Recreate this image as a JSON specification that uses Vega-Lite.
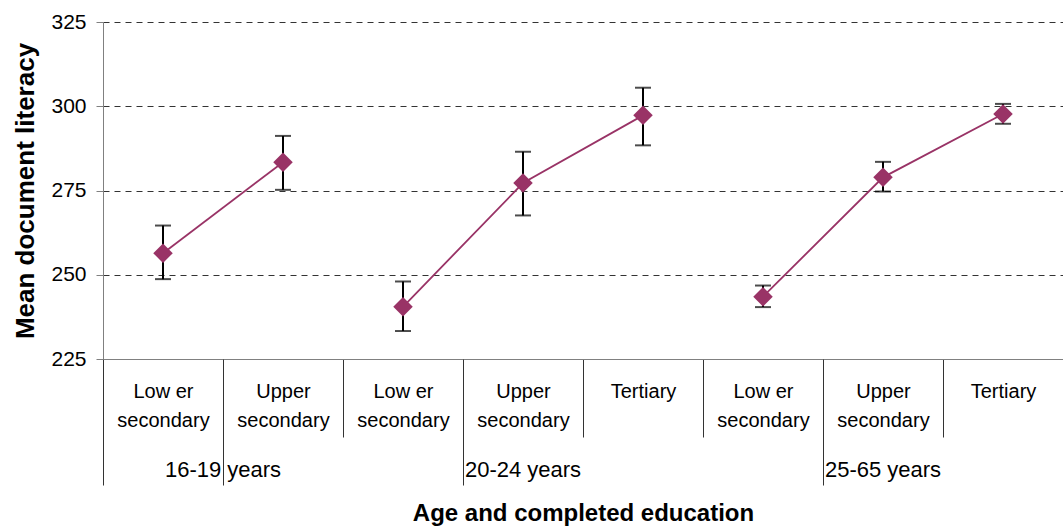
{
  "$schema": "https://vega.github.io/schema/vega-lite/v6.json",
  "width": 960,
  "height": 337,
  "autosize": {"type": "none"},
  "padding": {"left": 103, "top": 22, "right": 0, "bottom": 168},
  "background": "white",
  "config": {
    "view": {"stroke": null},
    "font": "Liberation Sans",
    "axis": {"labelFont": "Liberation Sans", "titleFont": "Liberation Sans", "labelColor": "black", "titleColor": "black"}
  },
  "data": {
    "values": [
      {"cat": "16-19 years|Low er|secondary", "age": "16-19 years", "mean": 256.4, "lo": 248.7, "hi": 264.6},
      {"cat": "16-19 years|Upper|secondary", "age": "16-19 years", "mean": 283.4, "lo": 275.2, "hi": 291.2},
      {"cat": "20-24 years|Low er|secondary", "age": "20-24 years", "mean": 240.5, "lo": 233.3, "hi": 248.0},
      {"cat": "20-24 years|Upper|secondary", "age": "20-24 years", "mean": 277.2, "lo": 267.6, "hi": 286.5},
      {"cat": "20-24 years|Tertiary", "age": "20-24 years", "mean": 297.3, "lo": 288.4, "hi": 305.5},
      {"cat": "25-65 years|Low er|secondary", "age": "25-65 years", "mean": 243.5, "lo": 240.4, "hi": 246.8},
      {"cat": "25-65 years|Upper|secondary", "age": "25-65 years", "mean": 278.9, "lo": 274.7, "hi": 283.5},
      {"cat": "25-65 years|Tertiary", "age": "25-65 years", "mean": 297.7, "lo": 294.8, "hi": 300.7}
    ]
  },
  "resolve": {"axis": {"x": "independent"}},
  "layer": [
    {
      "mark": {"type": "rule", "color": "black", "strokeWidth": 2},
      "encoding": {
        "x": {
          "field": "cat", "type": "nominal", "sort": null,
          "scale": {"paddingInner": 0, "paddingOuter": 0},
          "axis": {
            "orient": "bottom", "title": null,
            "domainColor": "#808080", "domainWidth": 1,
            "tickBand": "extent", "tickExtra": false, "tickSize": 78, "tickColor": "#333333", "tickWidth": 1,
            "labelExpr": "slice(split(datum.value, '|'), 1)",
            "labelAngle": 0, "labelFontSize": 20, "labelLineHeight": 29, "labelBaseline": "top",
            "labelPadding": -56, "labelOverlap": false, "grid": false
          }
        },
        "y": {
          "field": "lo", "type": "quantitative", "title": "Mean document literacy",
          "scale": {"domain": [225, 325], "nice": false, "zero": false},
          "axis": {
            "values": [225, 250, 275, 300, 325],
            "domainColor": "#808080", "tickColor": "#808080", "tickSize": 7,
            "labelFontSize": 21, "labelPadding": 10,
            "titleFontSize": 26, "titleFontWeight": "bold", "titlePadding": 12,
            "grid": true, "gridDash": [6, 5], "gridColor": "#333333", "gridWidth": 1
          }
        },
        "y2": {"field": "hi"}
      }
    },
    {
      "mark": {"type": "tick", "color": "black", "thickness": 2, "size": 16, "orient": "horizontal"},
      "encoding": {
        "x": {
          "field": "cat", "type": "nominal", "sort": null,
          "axis": {
            "orient": "bottom", "title": null, "domain": false, "labels": false,
            "values": ["16-19 years|Low er|secondary", "20-24 years|Low er|secondary", "25-65 years|Low er|secondary"],
            "tickBand": "extent", "tickExtra": false, "tickSize": 126, "tickColor": "#333333", "tickWidth": 1, "grid": false
          }
        },
        "y": {"field": "lo", "type": "quantitative", "title": "Mean document literacy"}
      }
    },
    {
      "mark": {"type": "tick", "color": "black", "thickness": 2, "size": 16, "orient": "horizontal"},
      "encoding": {
        "x": {"field": "cat", "type": "nominal", "sort": null, "axis": null},
        "y": {"field": "hi", "type": "quantitative", "title": "Mean document literacy"}
      }
    },
    {
      "mark": {"type": "line", "color": "#993366", "strokeWidth": 1.8},
      "encoding": {
        "x": {"field": "cat", "type": "nominal", "sort": null, "axis": null},
        "y": {"field": "mean", "type": "quantitative", "title": "Mean document literacy"},
        "detail": {"field": "age"}
      }
    },
    {
      "mark": {"type": "point", "shape": "diamond", "filled": true, "size": 380, "color": "#993366", "opacity": 1},
      "encoding": {
        "x": {
          "field": "cat", "type": "nominal", "sort": null,
          "axis": {
            "orient": "bottom", "title": "Age and completed education",
            "domain": false, "ticks": false, "grid": false,
            "labelExpr": "indexof(datum.value, 'Upper') >= 0 ? split(datum.value, '|')[0] : ''",
            "labelAngle": 0, "labelFontSize": 22, "labelBaseline": "top", "labelPadding": 100,
            "labelOffset": {"condition": {"test": "indexof(datum.value, '16-19') == 0", "value": -60}, "value": 0},
            "labelOverlap": false,
            "titleFontSize": 24, "titleFontWeight": "bold", "titlePadding": 21
          }
        },
        "y": {"field": "mean", "type": "quantitative", "title": "Mean document literacy"}
      }
    }
  ]
}
